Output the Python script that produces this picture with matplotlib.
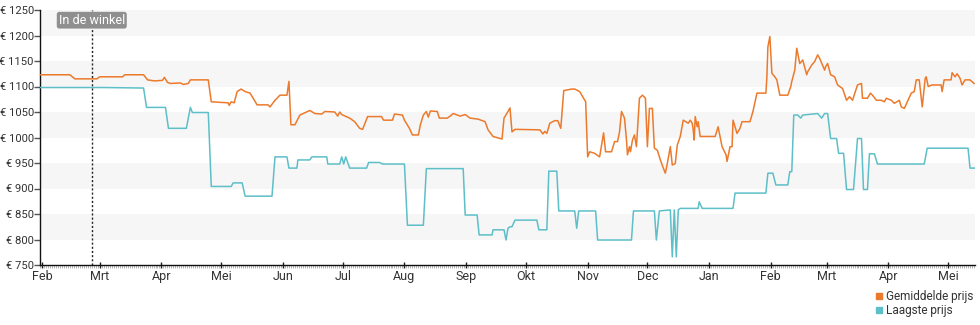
import matplotlib
matplotlib.use("Agg")
import matplotlib.pyplot as plt
import matplotlib.dates as mdates
from matplotlib.lines import Line2D
import pandas as pd

plt.rcParams['font.family'] = ['Roboto', 'DejaVu Sans']

start_date = '2024-02-01'
end_day = 468.5
store_day = 25

# Gemiddelde prijs: (days since start_date, price)
avg_days = [-1, 14, 16.5, 27.5, 29, 40.5, 41.5, 51, 53, 56.5, 60.5, 61.5, 63, 64.5, 69.5, 71, 73.5, 74.5,
            83.5, 85, 93.5, 94, 95, 96.5, 98, 100, 102, 104.5, 108, 113.5, 114.5, 117, 119.5, 123, 124, 125,
            127, 129.5, 134.5, 137, 140.5, 142, 147, 148.5, 149.5, 150.5, 154.5, 157, 159.5, 161, 163.5,
            170.5, 171.5, 176, 177, 181, 182, 184.5, 186, 189, 190, 191.5, 193, 194, 195, 198.5, 199.5,
            203.5, 205, 206.5, 210, 212.5, 215, 219, 222.5, 224, 226.5, 231, 232, 234, 235, 236, 237.5,
            250, 251.5, 252.5, 253.5, 255, 257.5, 259, 260.5, 262, 266, 267.5, 270, 271.5, 273, 274, 275,
            277.5, 280, 282, 283, 286, 287.5, 289, 290, 291, 292.5, 293.5, 294, 295, 295.5, 296.5, 297.5,
            298.5, 300, 301.5, 303, 304, 305, 306.5, 307.5, 309, 310.5, 312, 313, 314, 315.5, 316.5, 318,
            319, 320.5, 322, 324.5, 325.5, 326.5, 327, 327.5, 328, 329, 329.5, 330.5, 338, 338.5, 339.5,
            341.5, 343.5, 344, 345.5, 346.5, 347, 349, 350.5, 351.5, 355.5, 357, 359, 363.5, 364, 364.5,
            365.5, 366.5, 368, 369, 370.5, 374.5, 376, 376.5, 378, 379, 380.5, 382, 384, 384.5, 386.5,
            388, 389.5, 390.5, 393, 393.5, 394.5, 396, 398, 399.5, 402, 404, 405.5, 407, 409.5, 411.5,
            412, 414.5, 416, 417, 419, 421.5, 423, 424, 426.5, 428, 430.5, 431.5, 433, 434.5, 436.5, 438,
            439, 440.5, 442, 443.5, 444, 445, 447, 451.5, 452, 453, 456.5, 457, 458.5, 459.5, 461, 462,
            463.5, 466, 468]
avg_price = [1123, 1123, 1115, 1115, 1119, 1119, 1123, 1123, 1113, 1111, 1112, 1118, 1108, 1106, 1107, 1104,
             1106, 1113, 1113, 1070, 1068, 1063, 1070, 1068, 1090, 1095, 1090, 1087, 1064, 1064, 1060, 1073,
             1083, 1083, 1110, 1025, 1025, 1044, 1053, 1047, 1046, 1051, 1050, 1042, 1050, 1045, 1038, 1031,
             1018, 1016, 1041, 1041, 1034, 1034, 1046, 1044, 1034, 1018, 1005, 1005, 1025, 1044, 1051, 1040,
             1052, 1051, 1038, 1038, 1042, 1047, 1042, 1045, 1038, 1036, 1031, 1015, 1002, 997, 1038, 1051,
             1058, 1011, 1016, 1015, 1007, 1012, 1008, 1028, 1033, 1033, 1018, 1092, 1095, 1095, 1090, 1080,
             1070, 962, 972, 969, 962, 1009, 972, 972, 992, 992, 1011, 1051, 1038, 995, 966, 982, 972, 995,
             1005, 982, 1077, 1083, 1077, 982, 1057, 1057, 979, 975, 956, 940, 930, 949, 982, 946, 949, 985,
             1002, 1034, 1028, 1034, 1028, 1015, 995, 1041, 1021, 1031, 1002, 1002, 1008, 1021, 982, 966,
             953, 982, 982, 1034, 1008, 1018, 1031, 1031, 1051, 1087, 1087, 1119, 1178, 1198, 1126, 1119,
             1113, 1083, 1083, 1100, 1110, 1132, 1175, 1145, 1152, 1123, 1129, 1142, 1149, 1162, 1155, 1132,
             1139, 1145, 1123, 1119, 1103, 1096, 1073, 1080, 1073, 1103, 1106, 1077, 1077, 1087, 1083, 1073,
             1073, 1070, 1077, 1073, 1067, 1073, 1060, 1057, 1070, 1087, 1090, 1113, 1113, 1060, 1116, 1119,
             1100, 1103, 1103, 1090, 1113, 1113, 1127, 1119, 1125, 1116, 1103, 1113, 1113, 1106]

# Laagste prijs
low_days = [-1, 30.5, 51, 52.5, 62, 63.5, 72.5, 74.5, 75.5, 83.5, 85, 95, 96, 100.5, 102, 115.5, 117, 123,
            124, 128, 128.5, 134.5, 135.5, 143, 143.5, 149.5, 150.5, 151.5, 152.5, 154.5, 163, 164, 169.5,
            171, 182, 183.5, 191.5, 193, 211.5, 212.5, 218.5, 219.5, 226, 226.5, 232, 233, 234, 235, 236,
            237.5, 248.5, 249.5, 253.5, 254.5, 258.5, 259.5, 267.5, 268.5, 269.5, 278, 279, 296, 297, 307.5,
            308.5, 310, 315.5, 316.5, 317.5, 318.5, 319.5, 320.5, 329.5, 330, 331.5, 347, 348, 363.5, 364.5,
            367, 368.5, 374.5, 375.5, 376.5, 377.5, 379.5, 381, 382, 389.5, 391.5, 393, 394.5, 396, 399, 400,
            402.5, 404, 407.5, 409.5, 411.5, 412.5, 414.5, 415.5, 418, 419.5, 443, 444.5, 465, 466, 468.5]
low_price = [1098, 1098, 1097, 1059, 1059, 1018, 1018, 1059, 1049, 1049, 904, 904, 911, 911, 885, 885, 962,
             962, 940, 940, 956, 956, 962, 962, 948, 948, 962, 948, 962, 940, 940, 951, 951, 948, 948, 828,
             828, 939, 939, 848, 848, 809, 809, 819, 819, 799, 822, 825, 825, 838, 838, 819, 819, 934, 934,
             856, 856, 822, 856, 856, 799, 799, 856, 856, 799, 856, 858, 766, 858, 766, 858, 861, 861, 874,
             861, 861, 891, 891, 930, 930, 907, 907, 933, 933, 1044, 1044, 1038, 1044, 1047, 1038, 1047,
             1047, 998, 998, 969, 969, 898, 898, 998, 998, 898, 898, 968, 968, 948, 948, 979, 979, 940, 940]

month_labels = ['Feb', 'Mrt', 'Apr', 'Mei', 'Jun', 'Jul', 'Aug', 'Sep', 'Okt', 'Nov', 'Dec',
                'Jan', 'Feb', 'Mrt', 'Apr', 'Mei']
y_ticks = [750, 800, 850, 900, 950, 1000, 1050, 1100, 1150, 1200, 1250]
y_labels = ['€ ' + str(v) for v in y_ticks]
series_names = ['Gemiddelde prijs', 'Laagste prijs']
store_label = 'In de winkel'

c_avg = '#ec7a2c'
c_low = '#5dbfc8'
txt = '#333333'

t0 = pd.Timestamp(start_date)
to_date = lambda d: t0 + pd.to_timedelta(d, unit='D')
avg_x = [to_date(d) for d in avg_days]
low_x = [to_date(d) for d in low_days]

fig = plt.figure(figsize=(9.8, 3.25), dpi=100)
ax = fig.add_axes([40/980, 60/325, 935/980, 255/325])

for lo, hi in zip(y_ticks[1::2], y_ticks[2::2]):
    ax.axhspan(lo, hi, color='#f6f6f6', zorder=0, lw=0)

ax.plot(low_x, low_price, color=c_low, lw=1.1, zorder=3)
ax.plot(avg_x, avg_price, color=c_avg, lw=1.1, zorder=3)

ax.set_xlim(to_date(-1), to_date(end_day))
ax.set_ylim(750, 1250)

month_ticks = pd.date_range(start_date, periods=len(month_labels), freq='MS')
ax.set_xticks(month_ticks)
ax.set_xticklabels(month_labels)
ax.xaxis.set_minor_locator(mdates.DayLocator())
ax.set_yticks(y_ticks)
ax.set_yticklabels(y_labels)

ax.tick_params(axis='x', which='major', direction='inout', length=5, width=1, color='#222',
               labelsize=9, labelcolor=txt, pad=1)
ax.tick_params(axis='x', which='minor', direction='out', length=2, width=0.6, color='#aaaaaa')
ax.tick_params(axis='y', direction='out', length=4, width=1, color='#555',
               labelsize=8.1, labelcolor=txt, pad=0.5)

for s in ['top', 'right']:
    ax.spines[s].set_visible(False)
for s in ['left', 'bottom']:
    ax.spines[s].set_color('#111')
    ax.spines[s].set_linewidth(1.0)

ax.axvline(to_date(store_day), color='#222', lw=1.0, linestyle=(0, (1.5, 1.5)), zorder=4)
ax.text(to_date(store_day), 1230, store_label, ha='center', va='center', fontsize=9, color='white',
        zorder=5, bbox=dict(boxstyle='round,pad=0.15,rounding_size=0.2', fc='#8f8f8f', ec='none'))

handles = [Line2D([], [], marker='s', linestyle='none', color=c, markersize=5) for c in (c_avg, c_low)]
fig.legend(handles, series_names, loc='upper right', bbox_to_anchor=(0.993, 1 - 290/325),
           frameon=False, fontsize=8.5, handlelength=0.6, handletextpad=0.3, labelspacing=0.1,
           borderpad=0, borderaxespad=0, labelcolor=txt)

fig.savefig('out.png', dpi=100)
